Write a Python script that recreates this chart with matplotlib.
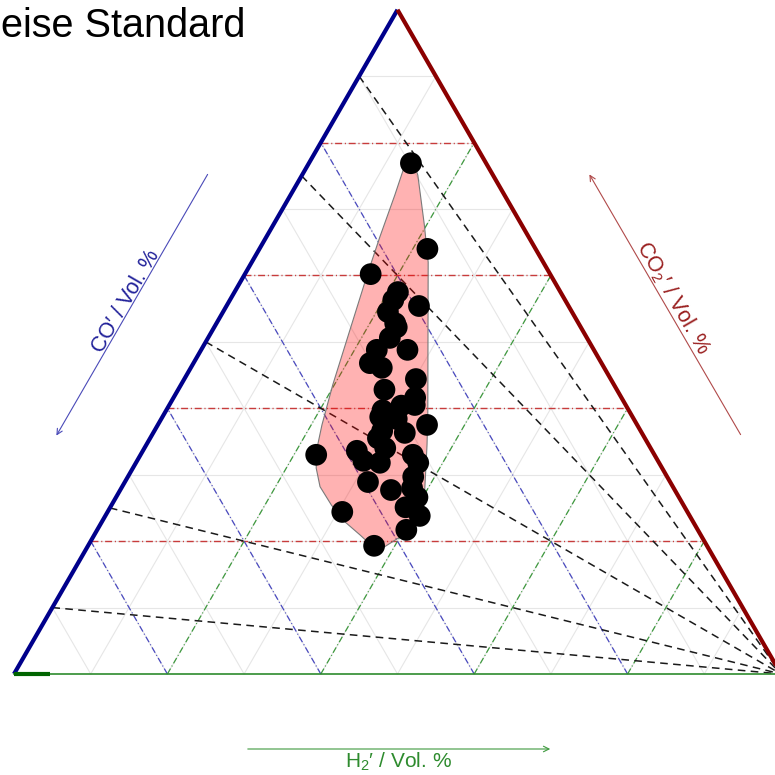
import numpy as np
import matplotlib
matplotlib.use("Agg")
import matplotlib.pyplot as plt

plt.rcParams['font.family'] = ['Liberation Sans', 'DejaVu Sans']
plt.rcParams['mathtext.fontset'] = 'custom'
plt.rcParams['mathtext.rm'] = 'Liberation Sans'
plt.rcParams['mathtext.it'] = 'Liberation Sans:italic'

# Messpunkte (Vol. %): CO2 oben, H2 rechts, CO = Rest
co2 = [76.9, 64.0, 60.2, 57.5, 55.4, 56.3, 54.5, 52.2, 50.6, 48.8,
       48.8, 46.8, 46.1, 44.4, 42.8, 41.6, 40.4, 39.7, 38.7, 38.4,
       37.5, 36.3, 36.6, 34.0, 33.0, 33.6, 32.1, 31.8, 33.0, 31.8,
       29.7, 28.9, 27.7, 28.0, 26.6, 25.1, 23.8, 24.4, 21.7, 19.3,
       52.8, 40.5, 35.5]
h2 = [13.3, 21.9, 16.4, 21.3, 25.1, 21.3, 21.5, 23.8, 23.7, 22.9,
      26.9, 23.0, 24.9, 30.2, 26.9, 31.5, 30.3, 28.2, 28.4, 30.7,
      35.1, 32.8, 29.7, 31.4, 22.9, 27.9, 29.5, 31.8, 35.5, 36.8,
      37.2, 31.7, 35.3, 37.9, 39.3, 38.5, 41.0, 30.6, 40.3, 37.3,
      23.3, 32.0, 29.7]

# Umhuellende (Vol. %)
hull_co2 = [78.4, 75.1, 67.6, 62.0, 39.3, 34.5, 27.7, 24.2, 20.6, 19.0,
            18.8, 20.9, 22.9, 25.4, 28.2, 31.0, 33.7, 37.5, 43.5, 51.8,
            60.1, 65.8, 72.1, 75.9]
hull_h2 = [12.5, 15.1, 19.7, 23.0, 34.3, 36.6, 39.7, 41.2, 40.0, 38.6,
           37.7, 34.7, 31.7, 28.7, 25.8, 23.9, 22.6, 21.4, 19.8, 17.9,
           16.0, 14.8, 13.6, 12.8]

# Verhaeltnislinien CO2/(CO+CO2) in %
ratios = [10, 25, 50, 75, 90]
minor_ticks = [10, 20, 30, 40, 50, 60, 70, 80, 90]
major_ticks = [20, 40, 60, 80]

SQ = np.sqrt(3) / 2


def tern(c, h):
    c = np.asarray(c, dtype=float) / 100
    h = np.asarray(h, dtype=float) / 100
    return h + c / 2, c * SQ


def px(x, y):
    # Pixelposition (Bild 775x775) -> Datenkoordinaten
    return (x - 14) / 767, (674 - y) / 767


fig = plt.figure(figsize=(7.75, 7.75), dpi=100)
ax = fig.add_axes([0, 0, 1, 1])
ax.set_xlim(-14 / 767, 761 / 767)
ax.set_ylim(-101 / 767, 674 / 767)
ax.axis('off')


def line_co2(v):
    return tern([v, v], [0, 100 - v])


def line_h2(v):
    return tern([0, 100 - v], [v, v])


def line_co(v):
    return tern([0, 100 - v], [100 - v, 0])


# Nebengitter
for v in minor_ticks:
    for f in (line_co2, line_h2, line_co):
        x, y = f(v)
        ax.plot(x, y, color='#e6e6e6', lw=0.8, zorder=1)

# Hauptgitter
dd = (0, (5, 2, 0.8, 2))
for v in major_ticks:
    x, y = line_co2(v)
    ax.plot(x, y, color='#c83c3c', lw=1.0, ls=dd, zorder=2)
    x, y = line_h2(v)
    ax.plot(x, y, color='#3f9a3f', lw=0.9, ls=dd, zorder=2)
    x, y = line_co(v)
    ax.plot(x, y, color='#4a4ac0', lw=0.9, ls=dd, zorder=2)

# Verhaeltnislinien zum H2-Eckpunkt
for r in ratios:
    x, y = tern([r, 0], [0, 100])
    ax.plot(x, y, color='#1a1a1a', lw=1.1, ls=(0, (5, 3.5)), zorder=3)

# Umhuellende
hx, hy = tern(hull_co2, hull_h2)
ax.fill(hx, hy, facecolor='red', alpha=0.3, edgecolor='none', zorder=4)
ax.fill(hx, hy, facecolor='none', edgecolor='#7a7a7a', lw=0.8, zorder=4)

# Dreiecksraender
x, y = tern([0, 100], [0, 0])
ax.plot(x, y, color='#00008b', lw=3, solid_capstyle='butt', zorder=5)
x, y = tern([100, 0], [0, 100])
ax.plot(x, y, color='#8b0000', lw=3, solid_capstyle='butt', zorder=5)
x, y = tern([0, 0], [0, 100])
ax.plot(x, y, color='#2e8b2e', lw=1.2, zorder=5)
x, y = tern([0, 0], [0, 4.7])
ax.plot(x, y, color='#006400', lw=3, solid_capstyle='butt', zorder=5)

# Punkte
x, y = tern(co2, h2)
ax.scatter(x, y, s=245, color='black', edgecolors='none', zorder=6)

# Achsentitel mit Pfeilen
ax.annotate('', xy=px(55, 438), xytext=px(209, 172),
            arrowprops=dict(arrowstyle='->', color='#4a4ab8', lw=0.8, mutation_scale=10))
ax.text(*px(126, 301), "CO\u2032 / Vol. %", rotation=60, rotation_mode='anchor',
        ha='center', va='center', fontsize=15.5, color='#22229a')

ax.annotate('', xy=px(588, 172), xytext=px(742, 437),
            arrowprops=dict(arrowstyle='->', color='#b04a4a', lw=0.8, mutation_scale=10))
ax.text(*px(673, 298), "CO$_2$\u2032 / Vol. %", rotation=-60, rotation_mode='anchor',
        ha='center', va='center', fontsize=15.5, color='#9a2020')

ax.annotate('', xy=px(553, 749), xytext=px(245, 749),
            arrowprops=dict(arrowstyle='->', color='#3f9a3f', lw=0.8, mutation_scale=10))
ax.text(*px(398, 768), "H$_2$\u2032 / Vol. %", ha='center', va='baseline',
        fontsize=15, color='#2e8b2e')

# Titel (im Original links angeschnitten)
fig.text(0.001, 1 - 37 / 775, "eise Standard", fontsize=28.5, va='baseline', ha='left')

fig.savefig("out.png", dpi=100)
